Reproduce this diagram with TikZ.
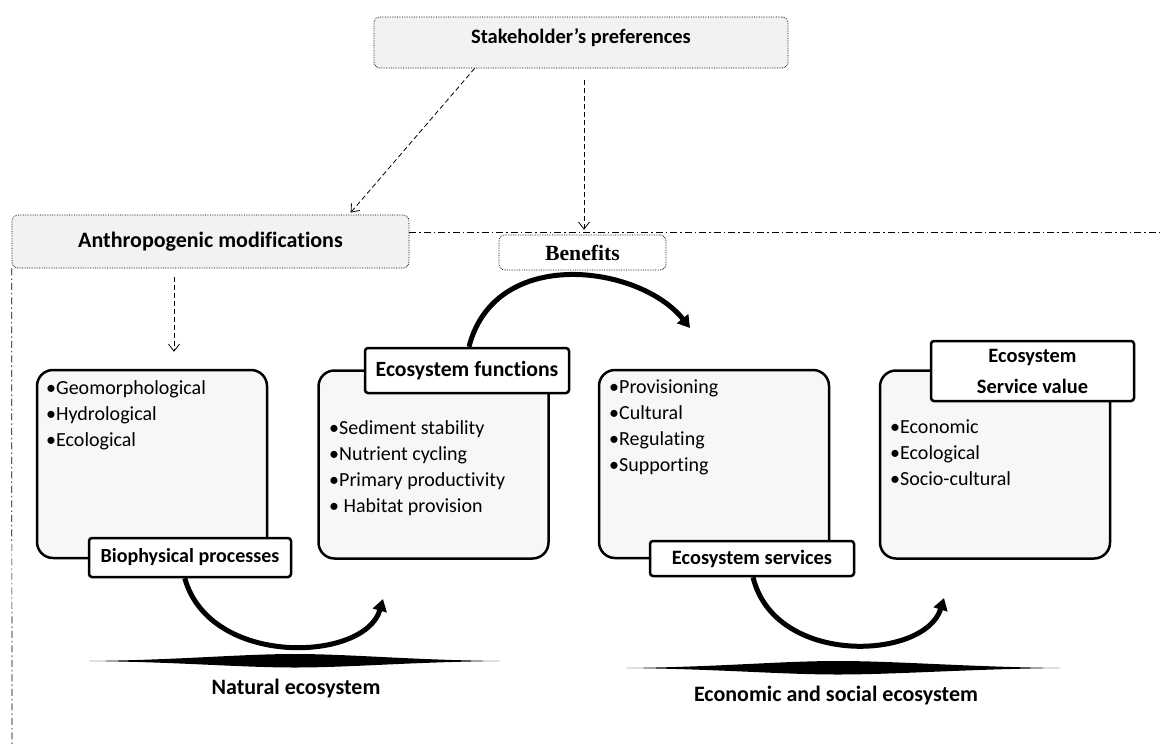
\documentclass[tikz,border=0pt]{standalone}
\usepackage{fontspec}
\setmainfont{Carlito}[Ligatures=NoCommon]
\newfontfamily\serifb{Liberation Serif}
\usetikzlibrary{arrows.meta,calc}
\begin{document}
\begin{tikzpicture}[x=1pt,y=-1pt,
  topbox/.style={draw, densely dotted, line width=0.7pt, rounded corners=6pt, fill=black!5, font=\bfseries\fontsize{20.5}{22}\selectfont, inner sep=0pt},
  bigbox/.style={draw, line width=2.5pt, rounded corners=16pt, fill=black!3, inner sep=0pt},
  lbl/.style={draw, line width=2.5pt, rounded corners=3pt, fill=white, font=\bfseries\fontsize{20.4}{22}\selectfont, inner sep=0pt, align=center},
  items/.style={anchor=north west, inner sep=0pt, align=left, font=\fontsize{20}{26}\selectfont},
  dasharrow/.style={dash pattern=on 5pt off 3pt, line width=0.8pt, -{Straight Barb[length=7pt,width=11pt]}},
  bigarrow/.style={line width=5pt, -{Triangle[length=12pt,width=14pt]}},
  frameline/.style={dash pattern=on 7pt off 3pt on 1.5pt off 3pt, line width=0.7pt},
  eco/.style={font=\bfseries\fontsize{22}{24}\selectfont, inner sep=0pt}
]
\useasboundingbox (0,0) rectangle (1162,745);

% top boxes
\node[topbox, minimum width=414pt, minimum height=51pt, text height=14pt, text depth=13pt] (sh) at (581,42.5) {Stakeholder’s preferences};
\node[topbox, minimum width=397pt, minimum height=53pt, font=\bfseries\fontsize{22}{24}\selectfont] (am) at (210.5,241.5) {Anthropogenic modifications};
\node[topbox, fill=white, minimum width=167pt, minimum height=35pt, font=\serifb\bfseries\fontsize{21.7}{24}\selectfont] (bn) at (582.5,252.5) {Benefits};

% frame lines
\coordinate (fr) at (1162,232);
\coordinate (fb) at (12,745);
\draw[frameline] (am.east |- fr) -- (fr);
\draw[frameline] (am.south west) -- (fb);

% big boxes
\node[bigbox, minimum width=230pt, minimum height=188pt] (b1) at (152,464) {};
\node[bigbox, minimum width=230pt, minimum height=188pt] (b2) at (433.5,464.5) {};
\node[bigbox, minimum width=230pt, minimum height=188pt] (b3) at (714,464) {};
\node[bigbox, minimum width=230pt, minimum height=188pt] (b4) at (995,464.5) {};

% items
\node[items] (i1) at (46,380) {•Geomorphological\\•Hydrological\\•Ecological};
\node[items] (i2) at (329,420) {•Sediment stability\\•Nutrient cycling\\•Primary productivity\\• Habitat provision};
\node[items] (i3) at (609,380) {•Provisioning\\•Cultural\\•Regulating\\•Supporting};
\node[items] (i4) at (890,420) {•Economic\\•Ecological\\•Socio-cultural};

% labels
\node[lbl, minimum width=202pt, minimum height=39pt, font=\bfseries\fontsize{20}{22}\selectfont] (l1) at (190,557.5) {Biophysical processes};
\node[lbl, minimum width=204pt, minimum height=45pt, font=\bfseries\fontsize{21.7}{24}\selectfont] (l2) at (467,370.5) {Ecosystem functions};
\node[lbl, minimum width=204pt, minimum height=35pt] (l3) at (752,558.5) {Ecosystem services};
\node[lbl, minimum width=203pt, minimum height=60pt, font=\bfseries\fontsize{20.4}{31}\selectfont] (l4) at (1032.5,371) {Ecosystem\\Service value};

% dashed arrows
\draw[dasharrow] ($(sh.south west)+(101,0)$) -- ($(am.north west)+(339,-2)$);
\draw[dasharrow, shorten <=12pt, shorten >=5pt] ([xshift=1.5pt]bn.north |- sh.south) -- ([xshift=1.5pt]bn.north);
\coordinate (amx) at ($(am.south)+(-36.5,0)$);
\draw[dasharrow, shorten <=9pt, shorten >=17pt] (amx) -- (amx |- b1.north);

% curved arrows
\coordinate (t1) at (383,599);
\coordinate (t2) at (690,328);
\coordinate (t3) at (944,598);
\draw[bigarrow] ($(l1.south west)+(97,0)$) .. controls (210,668) and (365,662) .. (t1);
\draw[bigarrow] ($(l2.north)+(2,0)$) .. controls (495,245) and (640,265) .. (t2);
\draw[bigarrow] ($(l3.south)+(1,0)$) .. controls (775,667) and (925,660) .. (t3);

% lenses
\fill (89,661) .. controls (180,660) and (240,654) .. (295,654) .. controls (350,654) and (410,660) .. (500,661)
  .. controls (410,662) and (350,667.5) .. (295,667.5) .. controls (240,667.5) and (180,662) .. (89,661) -- cycle;
\fill (626,668) .. controls (720,667) and (780,661) .. (838,661) .. controls (896,661) and (970,667) .. (1060,668)
  .. controls (970,669) and (896,674.5) .. (838,674.5) .. controls (780,674.5) and (720,669) .. (626,668) -- cycle;

% ecosystem texts
\node[eco] (ne) at (296,689) {Natural ecosystem};
\node[eco] (ee) at (836,696) {Economic and social ecosystem};
\end{tikzpicture}
\end{document}
